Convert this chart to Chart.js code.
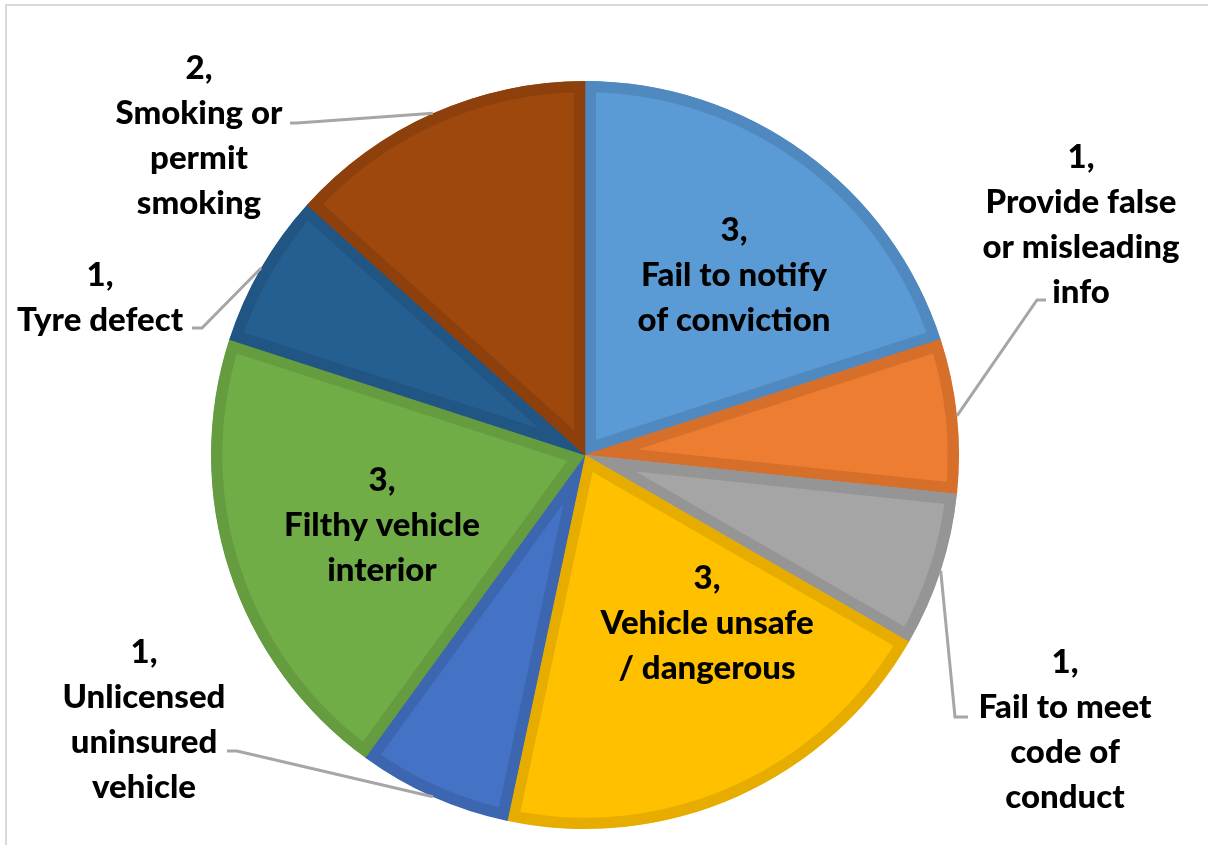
<!DOCTYPE html>
<html>
<head>
<meta charset="utf-8">
<script src="https://cdn.jsdelivr.net/npm/chart.js@4"></script>
<style>
    html, body { margin: 0; padding: 0; background: #fff; }
    #wrap {
        position: relative;
        width: 1208px;
        height: 845px;
        overflow: hidden;
    }
    /* thin grey frame, only top and left edges show in the picture */
    #frame {
        position: absolute;
        left: 5px;
        top: 4px;
        width: 1300px;
        height: 900px;
        border-top: 2px solid #d9d9d9;
        border-left: 2px solid #d9d9d9;
        pointer-events: none;
    }
    #offenceChart { position: absolute; left: 0; top: 0; }
</style>
</head>
<body>
<div id="wrap">
    <canvas id="offenceChart" width="1208" height="845"></canvas>
    <div id="frame"></div>
</div>

<script>
// categories (clockwise from 12 o'clock) and number of offences
const categories = [
    'Fail to notify of conviction',
    'Provide false or misleading info',
    'Fail to meet code of conduct',
    'Vehicle unsafe / dangerous',
    'Unlicensed uninsured vehicle',
    'Filthy vehicle interior',
    'Tyre defect',
    'Smoking or permit smoking'
];
const counts = [3, 1, 1, 3, 1, 3, 1, 2];

// slice colours (Office palette) and their darker outlines
const fillColors = ['#5B9BD5', '#ED7D31', '#A5A5A5', '#FFC000', '#4472C4', '#70AD47', '#255E91', '#9E480E'];
const edgeColors = ['#5089BF', '#D66F2A', '#959595', '#E6AD00', '#3D66B1', '#659C3F', '#215583', '#8D400C'];

// how each category name wraps in its label
const labelLines = [
    ['Fail to notify', 'of conviction'],
    ['Provide false', 'or misleading', 'info'],
    ['Fail to meet', 'code of', 'conduct'],
    ['Vehicle unsafe', '/ dangerous'],
    ['Unlicensed', 'uninsured', 'vehicle'],
    ['Filthy vehicle', 'interior'],
    ['Tyre defect'],
    ['Smoking or', 'permit', 'smoking']
];

// label block position: centre x, first line y (offset from pie centre)
const labelOffsets = [
    [149, -225], [496, -298], [480, 207], [122, 123],
    [-441, 197], [-203, 25], [-485, -180], [-386, -387]
];
// leader line: text-side end and elbow (offset from pie centre), null = label inside slice
const leaderStarts = [
    null, [[461, -155], [452, -155]], [[383, 262], [370, 262]], null,
    [[-358, 296], [-348, 296]], null, [[-393, -127], [-383, -127]], [[-295, -332], [-288, -332]]
];

const LINE_H = 45;

const labelPlugin = {
    id: 'pieLabels',
    afterDatasetsDraw(chart) {
        const ctx = chart.ctx;
        const meta = chart.getDatasetMeta(0);
        const values = chart.data.datasets[0].data;

        ctx.save();
        meta.data.forEach((arc, i) => {
            const p = arc.getProps(['x', 'y', 'startAngle', 'endAngle', 'outerRadius'], true);
            const mid = (p.startAngle + p.endAngle) / 2;

            // leader line to the outer edge of the slice
            const lead = leaderStarts[i];
            if (lead) {
                const ex = p.x + Math.cos(mid) * p.outerRadius;
                const ey = p.y + Math.sin(mid) * p.outerRadius;
                ctx.beginPath();
                ctx.moveTo(p.x + lead[0][0], p.y + lead[0][1]);
                ctx.lineTo(p.x + lead[1][0], p.y + lead[1][1]);
                ctx.lineTo(ex, ey);
                ctx.strokeStyle = '#A6A6A6';
                ctx.lineWidth = 3;
                ctx.lineJoin = 'miter';
                ctx.stroke();
            }

            // value + category text
            const off = labelOffsets[i];
            const lines = [values[i] + ','].concat(labelLines[i]);
            ctx.fillStyle = '#000';
            ctx.font = '900 33px Lato, "Open Sans", sans-serif';
            ctx.textAlign = 'center';
            ctx.textBaseline = 'middle';
            lines.forEach((txt, k) => {
                ctx.fillText(txt, p.x + off[0], p.y + off[1] + k * LINE_H);
            });
        });
        ctx.restore();
    }
};

const ctx = document.getElementById('offenceChart').getContext('2d');
const offenceChart = new Chart(ctx, {
    type: 'pie',
    data: {
        labels: categories,
        datasets: [{
            data: counts,
            backgroundColor: fillColors,
            borderColor: edgeColors,
            borderWidth: 11,
            borderAlign: 'inner',
            borderJoinStyle: 'miter',
            hoverOffset: 0,
            offset: 0
        }]
    },
    options: {
        responsive: false,
        animation: false,
        radius: 374,
        layout: {
            padding: { left: 0, right: 38, top: 65, bottom: 0 }
        },
        plugins: {
            legend: { display: false },
            tooltip: { enabled: false }
        },
        events: []
    },
    plugins: [labelPlugin]
});
</script>
</body>
</html>
